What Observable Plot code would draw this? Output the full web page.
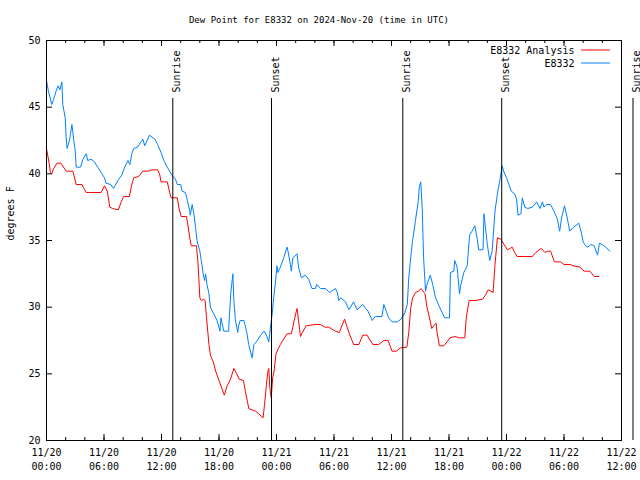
<!DOCTYPE html>
<html><head><meta charset="utf-8">
<script src="https://cdn.jsdelivr.net/npm/d3@7"></script>
<script src="https://cdn.jsdelivr.net/npm/@observablehq/plot@0.6"></script>
<style>body{margin:0;background:#fff} svg{display:block}</style>
</head><body><div id="chart"></div>
<script>
const title = "Dew Point for E8332 on 2024-Nov-20 (time in UTC)";
const yLabel = "degrees F";
const seriesNames = ["E8332 Analysis", "E8332"];
const seriesColors = ["#ff0000", "#0080ff"];

// hours since 2024-11-20 00:00 UTC
const blueHours = [0.0,0.2,0.55,0.75,1.0,1.2,1.4,1.6,1.7,1.95,2.05,2.15,2.4,2.65,2.85,3.0,3.1,3.55,3.8,4.15,4.3,4.65,5.0,5.35,5.7,6.05,6.2,6.7,7.0,7.45,7.85,8.15,8.5,8.7,8.9,9.1,9.5,10.05,10.25,10.75,11.3,11.6,11.95,12.25,12.6,13.1,13.45,13.65,14.0,14.15,14.5,14.7,14.95,15.0,15.2,15.4,15.55,15.7,16.0,16.15,16.35,16.5,16.6,16.75,16.95,17.1,17.45,17.8,18.1,18.2,18.5,19.0,19.1,19.25,19.45,19.55,19.7,19.95,20.05,20.2,20.6,20.9,21.1,21.45,21.65,22.0,22.35,22.7,22.95,23.2,23.4,23.55,23.7,23.9,24.05,24.15,24.4,24.75,25.1,25.2,25.45,25.55,25.7,26.15,26.3,26.6,27.0,27.35,27.7,28.05,28.2,28.6,29.1,29.55,30.15,30.35,30.5,30.7,31.2,31.55,32.05,32.4,33.0,33.3,33.55,34.0,34.3,35.0,35.2,35.45,35.7,36.05,36.6,37.0,37.4,37.65,37.8,38.0,38.2,38.5,38.8,38.9,39.05,39.2,39.35,39.55,39.7,40.05,40.3,40.6,40.95,41.55,42.05,42.15,42.5,42.6,42.85,43.1,43.2,43.55,43.9,44.15,44.4,44.7,44.95,45.1,45.55,45.65,45.8,46.0,46.25,46.5,46.8,47.05,47.3,47.55,47.7,48.0,48.25,48.5,48.85,49.05,49.2,49.5,49.65,49.9,50.2,50.7,51.15,51.5,51.75,51.9,52.2,52.6,52.95,53.3,53.55,53.75,54.05,54.25,54.6,55.0,55.55,55.8,56.0,56.25,56.5,56.8,57.15,57.5,57.7,58.0,58.35,58.8];
const blueValues = [47.0,46.2,45.2,45.6,46.2,46.6,46.3,46.9,45.2,44.2,42.7,41.9,42.5,43.7,42.5,41.7,40.5,40.5,41.1,41.5,41.0,41.1,40.9,40.5,40.1,39.7,39.3,39.2,38.9,39.5,39.9,40.5,41.0,40.7,41.5,41.9,42.0,42.6,42.1,42.9,42.6,42.2,41.6,41.0,40.5,39.9,39.6,39.2,39.2,38.7,38.6,38.0,37.2,36.9,37.7,36.9,36.0,35.0,34.2,33.5,32.5,32.0,32.5,31.7,31.0,30.0,29.5,29.0,28.2,29.2,28.2,28.2,29.5,31.2,32.5,30.5,29.1,28.1,28.6,29.0,29.0,28.1,27.2,26.2,27.2,27.5,27.9,28.2,27.9,27.4,28.7,29.5,30.7,31.9,33.1,32.6,33.0,33.7,34.5,34.2,33.2,32.7,33.7,34.0,33.0,32.2,32.4,32.1,31.4,31.4,31.7,31.4,31.4,31.1,31.4,31.1,30.5,30.7,30.4,29.8,30.4,29.8,30.2,29.9,29.7,29.0,29.3,29.3,30.2,29.7,29.2,28.9,28.9,29.1,29.6,30.2,32.2,33.7,35.0,36.5,38.0,39.0,39.4,37.5,33.7,31.2,31.7,32.4,31.7,30.7,30.1,29.2,29.2,32.6,32.7,33.5,33.0,31.0,31.6,32.6,33.1,35.4,35.7,36.1,35.1,34.3,34.3,37.0,36.0,34.7,33.5,34.2,37.2,38.5,39.5,40.6,40.2,39.7,39.2,38.7,38.5,38.1,36.9,37.0,38.2,37.5,37.4,37.5,37.9,37.4,37.9,37.5,37.7,37.7,37.2,36.6,35.7,36.7,37.6,37.0,35.7,36.0,36.3,35.6,34.9,34.6,34.5,34.7,34.6,33.9,34.8,34.7,34.5,34.2];

const redHours = [0.0,0.3,0.4,0.55,0.75,1.1,1.5,2.05,2.75,3.1,3.7,3.9,4.15,4.5,5.7,6.05,6.35,6.6,6.9,7.5,7.8,8.05,8.65,8.9,9.1,9.6,10.05,10.65,11.0,11.6,11.8,11.95,12.6,12.85,13.0,13.65,13.8,14.05,14.6,14.7,14.95,15.1,15.65,15.8,15.9,16.0,16.15,16.4,16.55,16.7,16.95,17.1,17.4,17.65,18.0,18.2,18.55,18.85,19.2,19.55,19.85,20.1,20.55,20.75,20.95,21.1,21.8,22.15,22.6,22.75,22.95,23.1,23.2,23.3,23.45,23.6,23.75,23.95,24.2,24.4,25.1,25.55,25.7,26.0,26.15,26.3,26.5,26.7,27.1,28.0,28.6,29.05,29.45,29.9,30.15,30.55,31.1,31.6,32.05,32.6,33.0,33.45,34.05,34.65,35.2,35.65,36.05,36.5,36.95,37.6,37.8,38.0,38.2,38.5,38.8,39.1,39.5,39.7,39.9,40.2,40.4,40.65,40.75,41.0,41.45,41.8,42.1,42.6,43.1,43.65,43.8,44.1,44.75,45.5,45.8,46.1,46.6,46.8,47.05,47.4,47.75,48.1,48.35,48.6,48.85,49.1,49.75,50.7,51.05,51.4,51.65,52.0,52.3,52.6,53.0,53.65,54.0,54.7,54.95,55.65,56.1,56.7,57.15,57.65];
const redValues = [41.9,40.7,40.1,40.0,40.4,40.8,40.8,40.2,40.2,39.2,39.2,38.9,38.6,38.6,38.6,39.1,38.7,37.5,37.4,37.3,37.9,38.3,38.3,39.2,39.7,39.8,40.2,40.2,40.3,40.3,40.0,39.4,39.4,38.6,38.2,38.2,37.5,36.8,36.8,36.4,35.2,34.6,34.6,33.4,32.1,30.7,30.5,30.6,30.5,29.2,27.2,26.4,25.9,25.2,24.5,24.1,23.4,24.1,24.6,25.4,25.0,24.6,24.5,23.7,23.0,22.4,22.2,22.0,21.7,22.7,24.2,25.2,25.4,24.0,23.2,24.7,25.2,26.5,26.9,27.2,28.0,28.0,28.5,29.5,29.9,29.0,27.8,28.1,28.6,28.7,28.7,28.5,28.5,28.3,28.2,28.1,29.1,28.0,27.2,27.2,27.9,27.9,27.2,27.2,27.5,27.5,26.7,26.7,26.95,27.0,28.1,29.9,30.7,31.1,31.2,31.4,31.0,30.0,29.4,28.4,28.6,28.8,28.1,27.1,27.1,27.4,27.7,27.8,27.7,27.7,29.2,30.5,30.5,30.6,30.9,31.3,31.1,33.2,35.2,35.1,34.7,34.3,34.4,34.5,34.1,33.8,33.8,33.8,34.1,34.3,34.4,34.1,34.2,34.2,33.4,33.4,33.2,33.2,33.1,33.0,32.7,32.7,32.3,32.3];

const sunHours = [13.18, 23.48, 37.18, 47.5, 61.2];
const sunLabels = ["Sunrise", "Sunset", "Sunrise", "Sunset", "Sunrise"];

const xTickHours = [0, 6, 12, 18, 24, 30, 36, 42, 48, 54, 60];
const xTickLabels = ["11/20\n00:00","11/20\n06:00","11/20\n12:00","11/20\n18:00","11/21\n00:00","11/21\n06:00","11/21\n12:00","11/21\n18:00","11/22\n00:00","11/22\n06:00","11/22\n12:00"];
const xMinorHours = d3.range(0, 61, 2);
const yTicks = [20, 25, 30, 35, 40, 45, 50];

const red = redHours.map((t, i) => ({t, v: redValues[i]}));
const blue = blueHours.map((t, i) => ({t, v: blueValues[i]}));
const sun = sunHours.map((t, i) => ({t, label: sunLabels[i]}));

const W = 640, H = 480, mL = 46, mR = 19, mT = 40, mB = 40;
const pw = W - mL - mR, ph = H - mT - mB;
const font = "DejaVu Sans Mono";

const chart = Plot.plot({
  width: W, height: H,
  marginLeft: mL, marginRight: mR, marginTop: mT, marginBottom: mB,
  style: {fontFamily: font, fontSize: "10px", background: "#fff", color: "#000"},
  x: {domain: [0, 60], label: null},
  y: {domain: [20, 50], label: null},
  marks: [
    Plot.line(red, {x: "t", y: "v", stroke: seriesColors[0], strokeWidth: 1}),
    Plot.line(blue, {x: "t", y: "v", stroke: seriesColors[1], strokeWidth: 1}),
    Plot.ruleX(sun, {x: "t", insetTop: 58, stroke: "#000", strokeWidth: 1}),
    Plot.text(sun, {x: "t", text: "label", rotate: -90, frameAnchor: "top", textAnchor: "start", dy: 52, fill: "#000"}),
    Plot.frame({stroke: "#000", strokeWidth: 1}),
    Plot.tickX(xMinorHours, {x: d => d, insetTop: ph - 3, stroke: "#000"}),
    Plot.tickX(xMinorHours, {x: d => d, insetBottom: ph - 3, stroke: "#000"}),
    Plot.tickX(xTickHours, {x: d => d, insetTop: ph - 6, stroke: "#000"}),
    Plot.tickX(xTickHours, {x: d => d, insetBottom: ph - 6, stroke: "#000"}),
    Plot.tickY(yTicks, {y: d => d, insetRight: pw - 6, stroke: "#000"}),
    Plot.tickY(yTicks, {y: d => d, insetLeft: pw - 6, stroke: "#000"}),
    Plot.axisX(xTickHours, {tickSize: 0, tickPadding: 6, lineHeight: 1.4, tickFormat: d => xTickLabels[xTickHours.indexOf(d)], label: null}),
    Plot.axisY(yTicks, {tickSize: 0, tickPadding: 6, label: null}),
    Plot.text([title], {frameAnchor: "top", lineAnchor: "middle", dy: -20, dx: -15, fontSize: 9, fill: "#000"}),
    Plot.text([yLabel], {frameAnchor: "left", rotate: -90, dx: -36, fill: "#000"}),
    Plot.text([seriesNames[0]], {frameAnchor: "top-right", lineAnchor: "middle", textAnchor: "end", dx: -47, dy: 10, fill: "#000"}),
    Plot.text([seriesNames[1]], {frameAnchor: "top-right", lineAnchor: "middle", textAnchor: "end", dx: -47, dy: 23, fill: "#000"})
  ]
});

// legend line samples
const svg = d3.select(chart);
[0, 1].forEach(i => {
  svg.append("line")
    .attr("x1", W - mR - 40).attr("x2", W - mR - 11)
    .attr("y1", mT + 10 + 13 * i).attr("y2", mT + 10 + 13 * i)
    .attr("stroke", seriesColors[i]).attr("stroke-width", 1);
});

document.getElementById("chart").appendChild(chart);
</script>
</body></html>
